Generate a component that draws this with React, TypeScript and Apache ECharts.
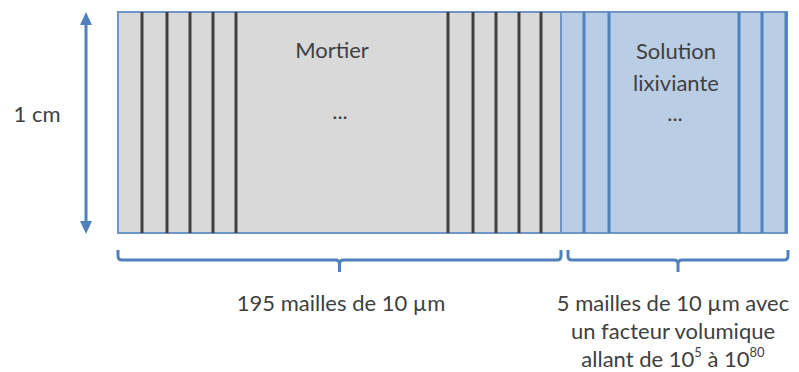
import React, { useEffect, useRef } from "react";
import * as echarts from "echarts";

// Diagram content
const mortarLabel = "Mortier";
const solutionLabel = ["Solution", "lixiviante"];
const heightLabel = "1 cm";
const leftCaption = "195 mailles de 10 µm";
const rightCaption = ["5 mailles de 10 µm avec", "un facteur volumique", "allant de 10{sup|5} à 10{sup|80}"];
// mesh separators (x, px)
const mortarMeshLines = [142, 167, 190, 213, 236, 448, 473, 496, 519, 541];
const solutionMeshLines = [584, 609, 739, 762, 786];

const TOP = 12;
const BOTTOM = 233;
const LEFT = 118;
const SPLIT = 561;
const RIGHT = 787;

const FONT = "Lato";
const TXT = "#404040";
const BLUE = "#4f81bd";

function bracePath(x0: number, x1: number, yTip: number, yLine: number, yTick: number) {
  const c = (x0 + x1) / 2;
  const r = 4;
  return `M${x0},${yTip} L${x0},${yLine - r} Q${x0},${yLine} ${x0 + r},${yLine} L${c - r},${yLine} Q${c},${yLine} ${c},${yLine + r} L${c},${yTick} M${c},${yLine + r} Q${c},${yLine} ${c + r},${yLine} L${x1 - r},${yLine} Q${x1},${yLine} ${x1},${yLine - r} L${x1},${yTip}`;
}

export default function App() {
  const ref = useRef<HTMLDivElement>(null);
  useEffect(() => {
    document.body.style.margin = "0";
    if (!ref.current) return;
    echarts.graphic.registerShape("braceL", echarts.graphic.extendPath(bracePath(118, 561, 250, 260, 272), {}) as any);
    echarts.graphic.registerShape("braceR", echarts.graphic.extendPath(bracePath(568, 788, 250, 260, 272), {}) as any);
    const chart = echarts.init(ref.current, null, { renderer: "svg" });
    const elements: any[] = [];
    // background rects
    elements.push({ type: "rect", shape: { x: LEFT, y: TOP, width: SPLIT - LEFT, height: BOTTOM - TOP }, style: { fill: "#d9d9d9", stroke: "#6f94c6", lineWidth: 2 } });
    elements.push({ type: "rect", shape: { x: SPLIT, y: TOP, width: RIGHT - SPLIT, height: BOTTOM - TOP }, style: { fill: "#b9cde5", stroke: "#6f94c6", lineWidth: 2 } });
    mortarMeshLines.forEach((x) => {
      elements.push({ type: "line", shape: { x1: x, y1: TOP, x2: x, y2: BOTTOM }, style: { stroke: "#404040", lineWidth: 3 } });
    });
    solutionMeshLines.forEach((x) => {
      elements.push({ type: "line", shape: { x1: x, y1: TOP, x2: x, y2: BOTTOM }, style: { stroke: BLUE, lineWidth: 3 } });
    });
    // height arrow
    elements.push({ type: "line", shape: { x1: 86, y1: 20, x2: 86, y2: 226 }, style: { stroke: BLUE, lineWidth: 3 } });
    elements.push({ type: "polygon", shape: { points: [[86, 12], [80, 25], [92, 25]] }, style: { fill: BLUE } });
    elements.push({ type: "polygon", shape: { points: [[86, 234], [80, 221], [92, 221]] }, style: { fill: BLUE } });
    // braces
    elements.push({ type: "braceL", x: 0, y: 0, style: { fill: "none", stroke: BLUE, lineWidth: 3 } });
    elements.push({ type: "braceR", x: 0, y: 0, style: { fill: "none", stroke: BLUE, lineWidth: 3 } });
    const txt = (text: string, x: number, y: number, extra: any = {}) => ({
      type: "text",
      x,
      y,
      style: { text, fill: TXT, font: `22px ${FONT}`, fontFamily: FONT, fontSize: 22, align: "center", verticalAlign: "middle", ...extra },
    });
    elements.push(txt(heightLabel, 37, 113));
    elements.push(txt(mortarLabel, 332, 49));
    elements.push(txt("...", 340, 110));
    elements.push(txt(solutionLabel[0], 676, 50));
    elements.push(txt(solutionLabel[1], 676, 82));
    elements.push(txt("...", 675, 112));
    elements.push(txt(leftCaption, 341, 302));
    elements.push(txt(rightCaption[0], 673, 302));
    elements.push(txt(rightCaption[1], 673, 330));
    elements.push(
      txt(rightCaption[2], 673, 358, {
        rich: {
          sup: { fontSize: 13, fontFamily: FONT, fill: TXT, verticalAlign: "top", lineHeight: 26 },
        },
        lineHeight: 26,
      })
    );
    chart.setOption({ animation: false, graphic: { elements } });
    return () => chart.dispose();
  }, []);
  return <div ref={ref} style={{ width: 799, height: 372 }} />;
}
